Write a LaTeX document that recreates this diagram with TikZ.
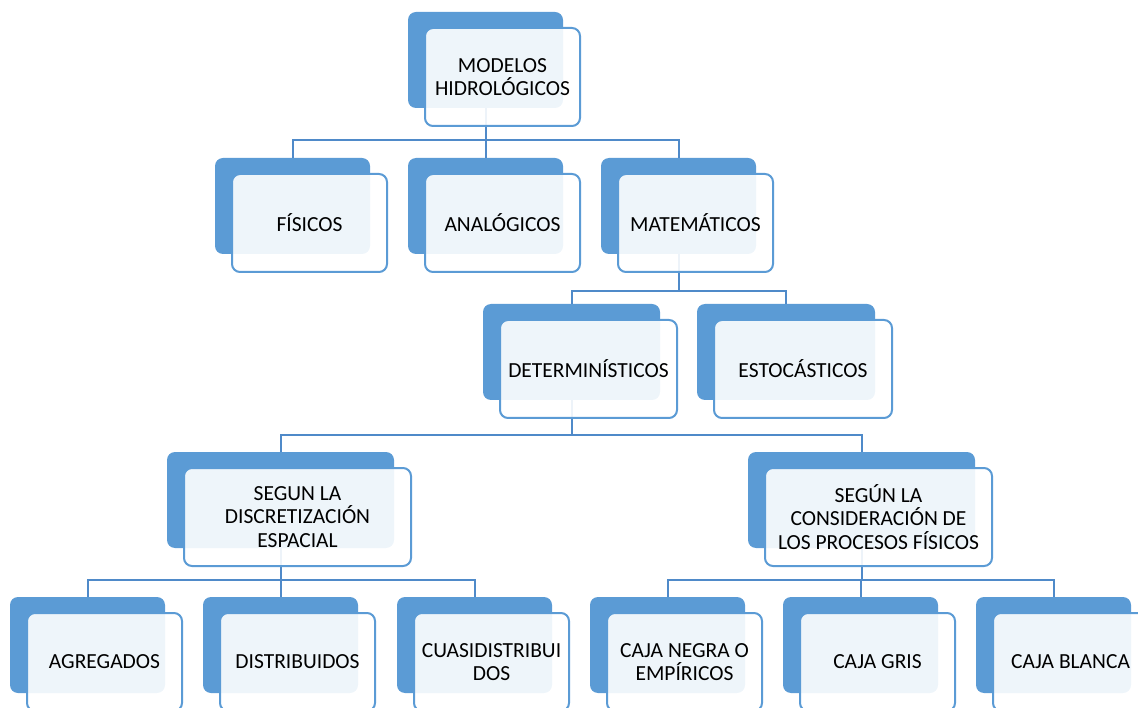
\documentclass[tikz,border=0pt]{standalone}
\usepackage{fontspec}
\setmainfont{Carlito}
\definecolor{boxblue}{HTML}{5B9BD5}
\definecolor{lineblue}{HTML}{4F8AC9}
\pgfdeclarelayer{backl}
\pgfdeclarelayer{linel}
\pgfsetlayers{backl,linel,main}
\tikzset{
  backbox/.style={rectangle, rounded corners=8pt, fill=boxblue, draw=none, minimum height=96pt, inner sep=0pt},
  frontbox/.style={rectangle, rounded corners=8pt, draw=boxblue, line width=2pt, fill=white, fill opacity=0.9, text opacity=1, minimum height=98pt, inner sep=0pt, align=center, font=\fontsize{21.5pt}{23.5pt}\selectfont},
  conn/.style={draw=lineblue, line width=2pt}
}
\newcommand\hbx[5]{%
  \begin{pgfonlayer}{backl}
    \node[backbox, minimum width=#4pt] (#1b) at ({#2+#4/2},{#3+48}) {};
  \end{pgfonlayer}
  \node[frontbox, minimum width=#4pt] (#1) at ({#2+17+#4/2},{#3+16+49}) {#5};
}
\begin{document}
\begin{tikzpicture}[x=1pt,y=-1pt]
\useasboundingbox (0,0) rectangle (1138,708);
\clip (0,0) rectangle (1138,708);
\hbx{m}{408}{12}{155}{MODELOS\\HIDROLÓGICOS}
\hbx{fis}{215}{158}{155}{FÍSICOS}
\hbx{ana}{408}{158}{155}{ANALÓGICOS}
\hbx{mat}{601}{158}{155}{MATEMÁTICOS}
\hbx{det}{483}{304}{177}{DETERMINÍSTICOS}
\hbx{est}{697}{304}{178}{ESTOCÁSTICOS}
\hbx{sga}{167}{452}{227}{SEGUN LA\\DISCRETIZACIÓN\\ESPACIAL}
\hbx{sgb}{748}{452}{227}{SEGÚN LA\\CONSIDERACIÓN DE\\LOS PROCESOS FÍSICOS}
\hbx{agr}{10}{597}{155}{AGREGADOS}
\hbx{dis}{203}{597}{155}{DISTRIBUIDOS}
\hbx{cua}{397}{597}{155}{CUASIDISTRIBUI\\DOS}
\hbx{cne}{590}{597}{155}{CAJA NEGRA O\\EMPÍRICOS}
\hbx{cgr}{783}{597}{155}{CAJA GRIS}
\hbx{cbl}{976}{597}{155}{CAJA BLANCA}
\coordinate (r1) at (0,140);
\coordinate (r2) at (0,291);
\coordinate (r3) at (0,435);
\coordinate (r4) at (0,580);
\begin{pgfonlayer}{linel}
  \foreach \c in {fis,ana,mat} {\draw[conn] (mb.south) -- (mb.south |- r1) -| (\c b.north);}
  \foreach \c in {det,est} {\draw[conn] (matb.south) -- (matb.south |- r2) -| (\c b.north);}
  \foreach \c in {sga,sgb} {\draw[conn] (detb.south) -- (detb.south |- r3) -| (\c b.north);}
  \foreach \c in {agr,dis,cua} {\draw[conn] (sgab.south) -- (sgab.south |- r4) -| (\c b.north);}
  \foreach \c in {cne,cgr,cbl} {\draw[conn] (sgbb.south) -- (sgbb.south |- r4) -| (\c b.north);}
\end{pgfonlayer}
\end{tikzpicture}
\end{document}
